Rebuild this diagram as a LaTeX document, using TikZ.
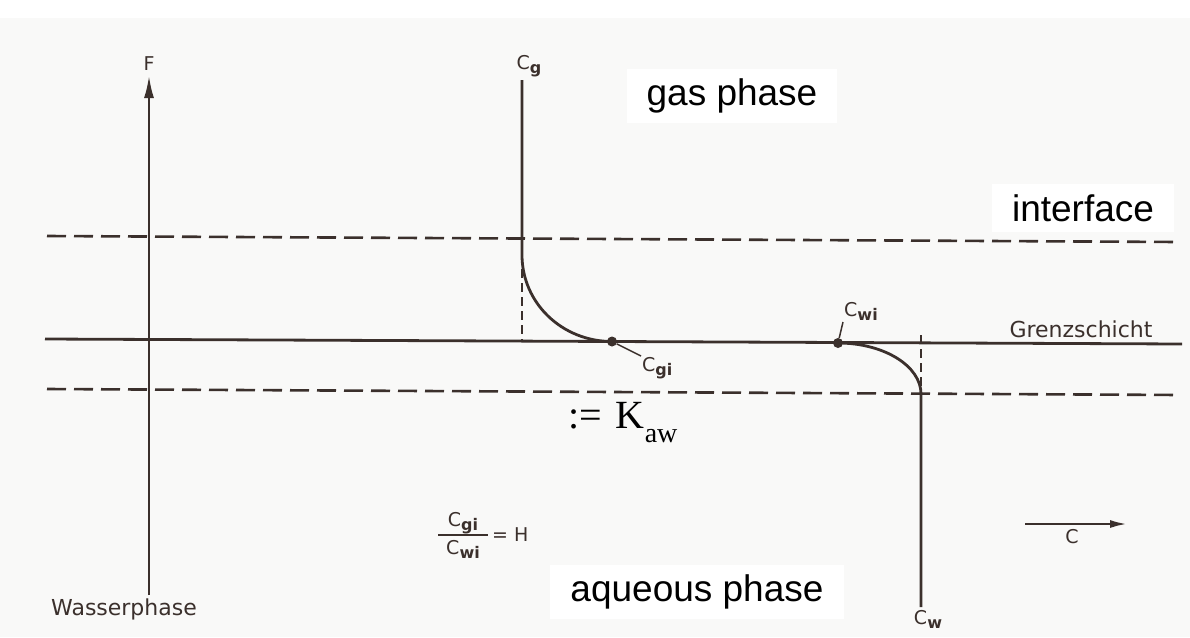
\documentclass[tikz,border=0pt]{standalone}
\usepackage{fontspec}
\setmainfont{Liberation Sans}
\newfontfamily\scanface{DejaVu Sans}
\newfontfamily\serifface{Liberation Serif}
\usetikzlibrary{arrows.meta, positioning}
\definecolor{ink}{HTML}{3B302C}
\definecolor{paper}{HTML}{F9F9F8}
\newcommand{\conc}[1]{C\raisebox{-4pt}{\fontsize{16}{16}\selectfont\bfseries #1}}

\begin{document}
\begin{tikzpicture}[
    x=1pt, y=-1pt,
    curve/.style={draw=ink, line width=2.8pt},
    layer/.style={draw=ink, line width=2.6pt, dash pattern=on 19pt off 8pt},
    drop/.style={draw=ink, line width=1.8pt, dash pattern=on 9pt off 5pt},
    leader/.style={draw=ink, line width=1.5pt},
    lbl/.style={text=ink, font=\scanface\fontsize{19}{21}\selectfont, inner sep=1pt},
    word/.style={text=ink, font=\scanface\fontsize{22}{24}\selectfont, inner sep=1pt},
    phase/.style={fill=white, text=black, font=\fontsize{37}{40}\selectfont, inner xsep=20pt, inner ysep=10pt},
    dot/.style={circle, fill=ink, inner sep=0pt, minimum size=10pt},
]
\useasboundingbox (0,0) rectangle (1190,637);
\fill[paper] (0,18) rectangle (1190,637);

% fixed points of the profile
\coordinate (fbot)  at (149,595);
\coordinate (ftop)  at (149,75);
\coordinate (gtop)  at (522,80);
\coordinate (gbend) at (522,255);
\coordinate (wtick) at (921,335);
\coordinate (wbend) at (921,394);
\coordinate (wbot)  at (921,607);
\coordinate (cfrom) at (1025,524);
\coordinate (cto)   at (1128,524);
\node[dot] (cgi) at (612,341.5) {};
\node[dot] (cwi) at (838,343) {};

% film boundaries and interface
\coordinate (upl) at (47,236);  \coordinate (upr) at (1178,242);
\coordinate (mil) at (45,339);  \coordinate (mir) at (1182,344);
\coordinate (lol) at (47,389);  \coordinate (lor) at (1180,395);
\draw[layer] (upl) -- (upr);
\draw[curve] (mil) -- (mir);
\draw[layer] (lol) -- (lor);

% axes
\draw[curve, -{Latex[length=23pt, width=10pt]}] (fbot) -- (ftop);
\draw[curve, -{Latex[length=18pt, width=8pt]}] (cfrom) -- (cto);

% concentration profile
\draw[curve] (gtop) -- (gbend) .. controls (522,303) and (562,341.5) .. (cgi.center);
\draw[curve] (cwi.center) .. controls (884,343) and (921,366) .. (wbend) -- (wbot);
\draw[drop] (gbend) -- (gbend |- cgi);
\draw[drop] (wtick) -- (wbend);

% labels
\node[lbl, above=3pt of ftop] (flbl) {F};
\node[word, below=3pt of fbot, xshift=-25pt] (wasser) {Wasserphase};
\node[lbl, above=2pt of gtop, xshift=7pt] (cglbl) {\conc{g}};
\node[lbl, below=2pt of wbot, xshift=7pt] (cwlbl) {\conc{w}};
\node[lbl, anchor=north west] (cgilbl) at (641,356) {\conc{gi}};
\node[lbl, anchor=south west] (cwilbl) at (843,322) {\conc{wi}};
\draw[leader] (cgi) -- (cgilbl.north west);
\draw[leader] (cwi) -- (cwilbl.south west);
\node[word, anchor=base] (grenz) at (1081,337) {Grenzschicht};
\node[lbl, below=4pt of cfrom, xshift=47pt] (clbl) {C};

% Henry ratio
\node[lbl] (ratio) at (463,535) {\setlength{\arrayrulewidth}{1.6pt}\renewcommand{\arraystretch}{1.3}%
  \begin{tabular}{@{\hspace{8pt}}c@{\hspace{8pt}}}\conc{gi}\\\hline\conc{wi}\end{tabular}};
\node[lbl, right=2pt of ratio] (henry) {= H};
\node[text=black, font=\serifface\fontsize{40}{40}\selectfont, anchor=base west, inner sep=0pt] (kaw) at (568,428)
  {:=\hspace{14pt}K\raisebox{-14pt}{\fontsize{28}{28}\selectfont aw}};

% phase names
\node[phase] (gas) at (732,96) {gas phase};
\node[phase] (iface) at (1083,208) {interface};
\node[phase] (aq) at (697,592) {aqueous phase};
\end{tikzpicture}
\end{document}
